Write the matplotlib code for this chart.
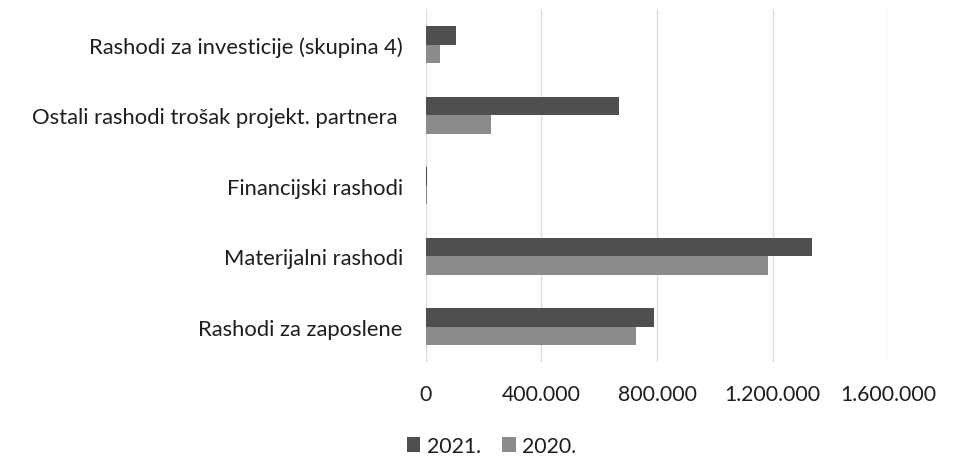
import matplotlib
matplotlib.use("Agg")
import matplotlib.pyplot as plt
import numpy as np

plt.rcParams['font.family'] = ['Lato', 'DejaVu Sans']

categories = [
    "Rashodi za zaposlene",
    "Materijalni rashodi",
    "Financijski rashodi",
    "Ostali rashodi trošak projekt. partnera ",
    "Rashodi za investicije (skupina 4)",
]
values_2021 = [788000, 1337000, 6000, 668000, 103000]
values_2020 = [728000, 1184000, 4000, 224000, 48000]
x_ticks = [0, 400000, 800000, 1200000, 1600000]
x_labels = ["0", "400.000", "800.000", "1.200.000", "1.600.000"]

dark = "#4f4f4f"
light = "#8b8b8b"
txt = "#1e1e1e"

fig = plt.figure(figsize=(9.55, 4.77), dpi=100)
ax = fig.add_axes([0.4458, 0.2390, 0.4844, 0.739])

y = np.arange(len(categories))
h = 0.26
ax.barh(y + h / 2, values_2021, height=h, color=dark, label="2021.")
ax.barh(y - h / 2, values_2020, height=h, color=light, label="2020.")

ax.set_xlim(0, 1600000)
ax.set_ylim(-0.5, len(categories) - 0.5)
ax.set_yticks(y)
ax.set_yticklabels(categories, fontsize=15.8, color=txt)
ax.set_xticks(x_ticks)
ax.set_xticklabels(x_labels, fontsize=15.3, color=txt)
ax.tick_params(axis="y", length=0, pad=16.5)
ax.tick_params(axis="x", length=0, pad=16)

ax.grid(axis="x", color="#dcdcdc", linewidth=1)
ax.set_axisbelow(True)
for s in ax.spines.values():
    s.set_visible(False)

fig.legend(loc="center", bbox_to_anchor=(491.5 / 955, 1 - 447 / 477), ncol=2,
           frameon=False, fontsize=15.3, handlelength=0.65, handleheight=0.65,
           handletextpad=0.3, columnspacing=1.0, labelcolor=txt)

fig.savefig("out.png", dpi=100)
